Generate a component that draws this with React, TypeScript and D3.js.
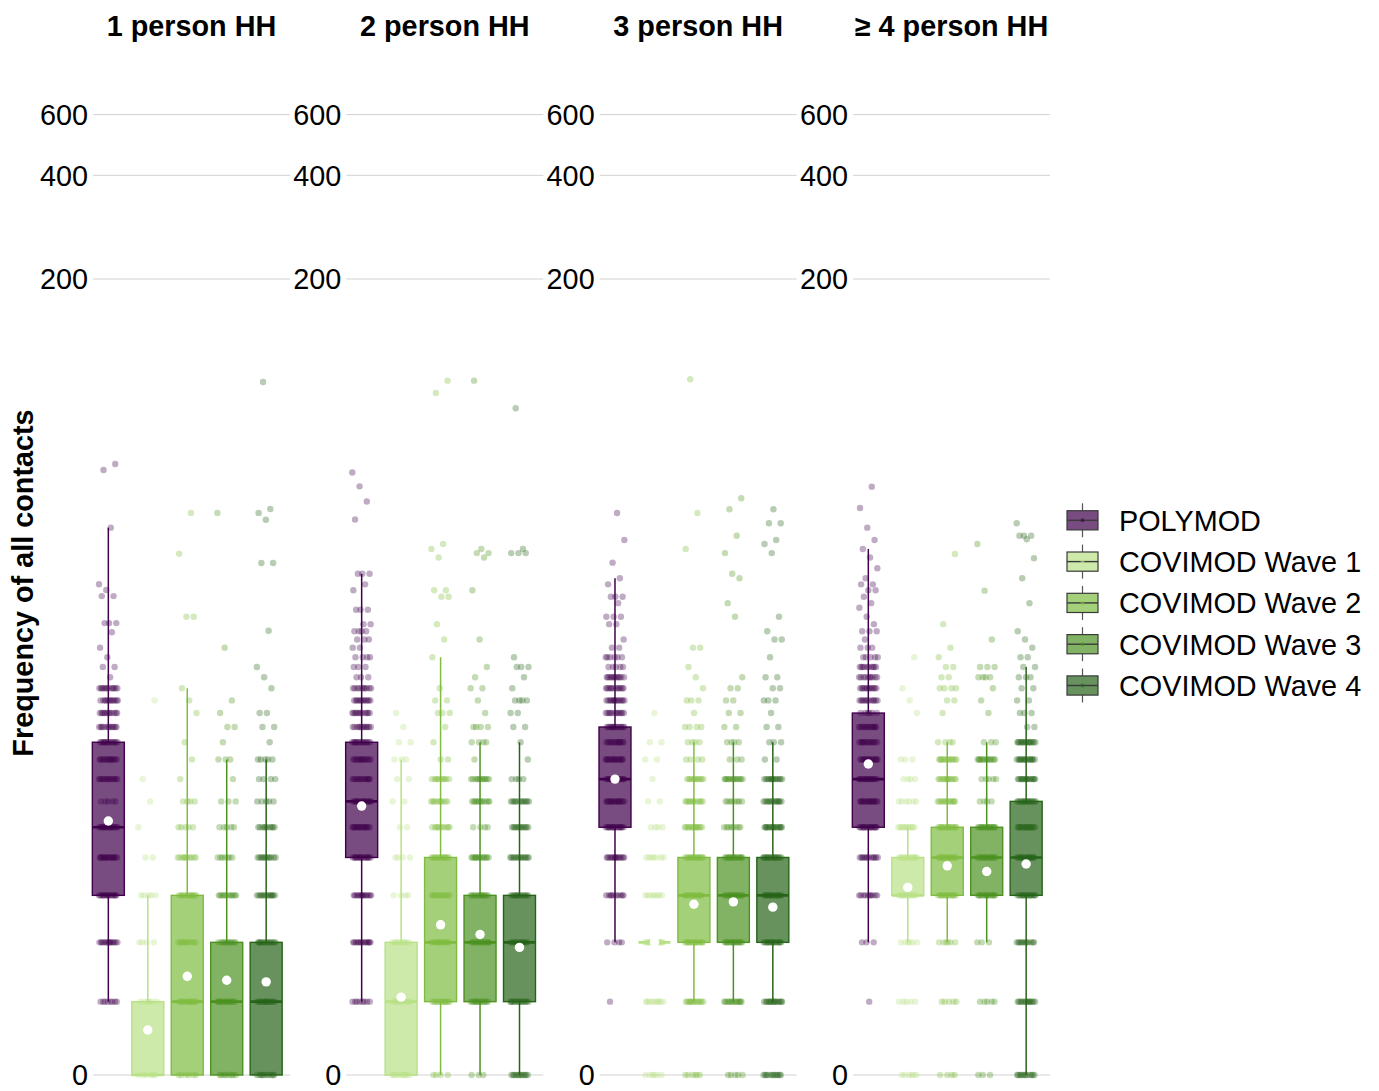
import React from 'react';
import * as d3 from 'd3';

// Facets (household size) and surveys
const HOUSEHOLDS = ['1 person HH', '2 person HH', '3 person HH', '≥ 4 person HH'];
const SURVEYS = ['POLYMOD', 'COVIMOD Wave 1', 'COVIMOD Wave 2', 'COVIMOD Wave 3', 'COVIMOD Wave 4'];
const SURVEY_COLORS = ['#40004b', '#b8e186', '#7fbc41', '#4d9221', '#276419'];
const Y_TICKS = [0, 200, 400, 600];

// Box statistics per survey: [lower whisker, q1, median, q3, upper whisker, mean]
const BOX_1P = [
  [0.63, 2.31, 4.21, 8.18, 37.35, 4.43],
  [0, 0, 0, 0.63, 2.31, 0.35],
  [0, 0, 0.63, 2.31, 12.16, 0.93],
  [0, 0, 0.63, 1.42, 7.18, 0.88],
  [0, 0, 0.63, 1.42, 7.18, 0.86],
];
const BOX_2P = [
  [0.63, 3.26, 5.19, 8.18, 27.2, 5.0],
  [0, 0, 0.63, 1.42, 7.18, 0.68],
  [0, 0.63, 1.42, 3.26, 15.17, 1.72],
  [0, 0.63, 1.42, 2.31, 8.18, 1.55],
  [0, 0.63, 1.42, 2.31, 8.18, 1.34],
];
const BOX_3P = [
  [1.42, 4.21, 6.18, 9.16, 26.37, 6.18],
  [1.42, 1.42, 1.42, 1.42, 1.42, 1.42],
  [0.63, 1.42, 2.31, 3.26, 8.18, 2.12],
  [0.63, 1.42, 2.31, 3.26, 8.18, 2.17],
  [0.63, 1.42, 2.31, 3.26, 8.18, 2.06],
];
const BOX_4P = [
  [1.42, 4.21, 6.18, 10.15, 32.27, 6.94],
  [1.42, 2.31, 2.31, 3.26, 4.21, 2.49],
  [1.42, 2.31, 3.26, 4.21, 8.18, 3.03],
  [1.42, 2.31, 3.26, 4.21, 8.18, 2.88],
  [0, 2.31, 3.26, 5.19, 14.16, 3.08],
];

// Individual responses per survey: [contacts, number of respondents]
const POINTS_1P = [
  [[0.63, 8], [1.42, 14], [2.31, 16], [3.26, 16], [4.21, 16], [5.19, 5], [6.18, 14], [7.18, 14], [8.18, 14], [9.16, 12], [10.15, 12], [11.13, 12], [12.16, 12], [13.16, 1], [14.16, 2], [15.17, 1], [16.24, 1], [18.1, 1], [19.3, 3], [23.3, 2], [24.3, 1], [25.3, 1], [37.35, 1], [55.3, 1], [57.6, 1]],
  [[0, 6], [0.63, 6], [1.42, 4], [2.31, 5], [3.26, 2], [4.21, 1], [5.19, 1], [6.18, 1], [11.13, 1]],
  [[0, 6], [0.63, 14], [1.42, 12], [2.31, 14], [3.26, 10], [4.21, 5], [5.19, 4], [6.18, 1], [7.18, 1], [8.18, 1], [10.15, 1], [11.13, 1], [12.16, 1], [20.19, 2], [31.2, 1], [41.3, 1]],
  [[0, 8], [0.63, 14], [1.42, 12], [2.31, 12], [3.26, 7], [4.21, 5], [5.19, 3], [6.18, 1], [7.18, 3], [8.18, 1], [9.16, 2], [10.15, 1], [11.13, 1], [16.24, 1], [41.3, 1]],
  [[0, 10], [0.63, 14], [1.42, 14], [2.31, 14], [3.26, 12], [4.21, 10], [5.19, 5], [6.18, 4], [7.18, 5], [8.18, 1], [9.16, 2], [10.15, 2], [12.16, 1], [13.16, 1], [14.16, 1], [18.3, 1], [29.3, 2], [39.4, 1], [41.3, 1], [42.4, 1], [100.2, 1]],
];
const POINTS_2P = [
  [[0.63, 8], [1.42, 14], [2.31, 14], [3.26, 16], [4.21, 16], [5.19, 16], [6.18, 14], [7.18, 14], [8.18, 14], [9.16, 12], [10.15, 12], [11.13, 12], [12.16, 10], [13.16, 3], [14.16, 3], [15.17, 4], [16.24, 2], [17.21, 3], [18.23, 4], [19.16, 2], [21.2, 3], [24.27, 1], [25.28, 1], [27.2, 3], [39.5, 1], [44.63, 1], [49.5, 1], [54.35, 1]],
  [[0, 10], [0.63, 12], [1.42, 10], [2.31, 4], [3.26, 4], [4.21, 2], [5.19, 2], [6.18, 2], [7.18, 3], [8.18, 2], [9.16, 1], [10.15, 1]],
  [[0, 4], [0.63, 14], [1.42, 14], [2.31, 14], [3.26, 14], [4.21, 10], [5.19, 10], [6.18, 10], [7.18, 2], [8.18, 1], [9.16, 1], [10.15, 3], [11.13, 2], [12.16, 1], [15.17, 1], [17.21, 1], [19.16, 1], [23.19, 2], [24.27, 2], [30.44, 1], [32.27, 1], [33.4, 1], [93.0, 1], [101.1, 1]],
  [[0, 3], [0.63, 14], [1.42, 14], [2.31, 14], [3.26, 14], [4.21, 4], [5.19, 12], [6.18, 12], [7.18, 1], [8.18, 4], [9.16, 4], [10.15, 1], [11.13, 1], [12.16, 2], [13.16, 1], [14.16, 1], [17.21, 1], [24.27, 1], [30.44, 1], [31.37, 2], [32.27, 1], [101.1, 1]],
  [[0, 12], [0.63, 14], [1.42, 14], [2.31, 14], [3.26, 14], [4.21, 12], [5.19, 12], [6.18, 4], [7.18, 1], [8.18, 1], [9.16, 2], [10.15, 2], [11.13, 4], [12.16, 1], [13.16, 1], [14.16, 3], [15.17, 1], [31.37, 3], [32.27, 1], [83.96, 1]],
];
const POINTS_3P = [
  [[0.63, 1], [1.42, 4], [2.31, 10], [3.26, 14], [4.21, 16], [5.19, 16], [6.18, 16], [7.18, 16], [8.18, 14], [9.16, 14], [10.15, 12], [11.13, 14], [12.16, 12], [13.16, 12], [14.16, 5], [15.17, 6], [16.24, 2], [17.21, 1], [19.16, 2], [20.19, 3], [22.19, 1], [23.19, 3], [25.28, 1], [26.37, 1], [29.37, 1], [34.33, 1], [41.29, 1]],
  [[0, 6], [0.63, 10], [1.42, 18], [2.31, 8], [3.26, 7], [4.21, 4], [5.19, 2], [6.18, 1], [7.18, 2], [8.18, 2], [10.15, 1]],
  [[0, 6], [0.63, 14], [1.42, 16], [2.31, 16], [3.26, 16], [4.21, 14], [5.19, 12], [6.18, 12], [7.18, 4], [8.18, 4], [9.16, 4], [10.15, 1], [11.13, 3], [12.16, 1], [13.16, 1], [14.16, 1], [16.24, 2], [32.27, 1], [41.29, 1], [102.05, 1]],
  [[0, 5], [0.63, 14], [1.42, 16], [2.31, 16], [3.26, 16], [4.21, 8], [5.19, 8], [6.18, 14], [7.18, 3], [8.18, 4], [9.16, 2], [10.15, 2], [11.13, 2], [12.16, 2], [13.16, 1], [20.19, 1], [22.19, 1], [26.37, 1], [27.2, 1], [31.37, 1], [35.33, 1], [42.35, 1], [45.65, 1]],
  [[0, 12], [0.63, 16], [1.42, 16], [2.31, 16], [3.26, 16], [4.21, 16], [5.19, 14], [6.18, 14], [7.18, 2], [8.18, 3], [9.16, 2], [10.15, 1], [11.13, 3], [12.16, 2], [13.16, 2], [15.17, 1], [17.21, 2], [18.23, 1], [20.19, 1], [31.37, 1], [33.4, 1], [34.33, 1], [38.49, 2], [42.35, 1]],
];
const POINTS_4P = [
  [[0.63, 1], [1.42, 3], [2.31, 10], [3.26, 12], [4.21, 16], [5.19, 16], [6.18, 16], [7.18, 16], [8.18, 14], [9.16, 14], [10.15, 6], [11.13, 12], [12.16, 12], [13.16, 10], [14.16, 10], [15.17, 5], [16.24, 3], [17.21, 1], [18.23, 3], [19.16, 1], [20.19, 1], [21.5, 1], [22.19, 1], [23.19, 1], [24.27, 2], [25.28, 2], [26.37, 1], [28.26, 1], [30.44, 1], [32.27, 1], [34.33, 1], [37.35, 1], [42.7, 1], [49.4, 1]],
  [[0, 6], [0.63, 5], [1.42, 6], [2.31, 14], [3.26, 14], [4.21, 12], [5.19, 6], [6.18, 4], [7.18, 3], [10.15, 1], [11.13, 1], [12.16, 1], [15.17, 1]],
  [[0, 4], [0.63, 5], [1.42, 6], [2.31, 16], [3.26, 16], [4.21, 16], [5.19, 14], [6.18, 14], [7.18, 14], [8.18, 4], [10.15, 1], [11.13, 2], [12.16, 4], [13.16, 2], [14.16, 2], [15.17, 1], [16.24, 1], [19.16, 1], [31.18, 1]],
  [[0, 3], [0.63, 5], [1.42, 3], [2.31, 16], [3.26, 16], [4.21, 16], [5.19, 4], [6.18, 5], [7.18, 14], [8.18, 3], [10.15, 1], [11.13, 1], [12.16, 1], [13.16, 4], [14.16, 3], [17.21, 1], [24.2, 1], [33.4, 1]],
  [[0, 12], [0.63, 14], [1.42, 12], [2.31, 16], [3.26, 16], [4.21, 16], [5.19, 16], [6.18, 16], [7.18, 16], [8.18, 16], [9.16, 2], [10.15, 3], [11.13, 2], [12.16, 2], [13.16, 3], [14.16, 2], [15.17, 2], [16.24, 1], [17.21, 1], [18.23, 1], [22.19, 1], [26.37, 1], [30.27, 1], [34.5, 1], [35.33, 3], [38.49, 1]],
];

const PANEL_BOXES = [BOX_1P, BOX_2P, BOX_3P, BOX_4P];
const PANEL_POINTS = [POINTS_1P, POINTS_2P, POINTS_3P, POINTS_4P];

const WIDTH = 1379;
const HEIGHT = 1091;
const FONT = '"Liberation Sans", Arial, Helvetica, sans-serif';
const FONT_SIZE = 28.8;

export default function App() {
  // log(1 + x) axis
  const y = d3.scaleSymlog().constant(1).domain([0, 600]).range([1075, 114.6]);
  const panelX = d3.scaleBand<string>().domain(HOUSEHOLDS).range([93, 1050]).paddingInner(0.2223);
  const groupX = d3.scaleBand<string>().domain(SURVEYS).range([-4.4, 192.9]);
  const boxW = 32;
  const jitterW = 9.5;
  const pw = panelX.bandwidth();

  return (
    <svg
      width={WIDTH}
      height={HEIGHT}
      style={{ position: 'absolute', left: 0, top: 0, background: '#fff' }}
      fontFamily={FONT}
    >
      <defs>
        <filter id="soft" x="-20%" y="-20%" width="140%" height="140%">
          <feGaussianBlur stdDeviation="0.5" />
        </filter>
      </defs>
      <rect width={WIDTH} height={HEIGHT} fill="#fff" />

      <text
        transform="translate(32.5,583) rotate(-90)"
        textAnchor="middle"
        fontSize={FONT_SIZE}
        fontWeight="bold"
        fill="#000"
      >
        Frequency of all contacts
      </text>

      {HOUSEHOLDS.map((hh, p) => {
        const px = panelX(hh) as number;
        const boxes = PANEL_BOXES[p];
        const points = PANEL_POINTS[p];
        return (
          <g key={hh}>
            <text x={px + pw / 2} y={35.5} textAnchor="middle" fontSize={FONT_SIZE} fontWeight="bold" fill="#000">
              {hh}
            </text>
            {Y_TICKS.map((t) => (
              <g key={t}>
                <line x1={px} x2={px + pw} y1={y(t)} y2={y(t)} stroke="#d2d2d2" strokeWidth={1} />
                <text x={px - 5} y={y(t)} dy="0.36em" textAnchor="end" fontSize={FONT_SIZE} fill="#000">
                  {t}
                </text>
              </g>
            ))}

            {SURVEYS.map((s, i) => {
              const [lo, q1, med, q3, hi] = boxes[i];
              const cx = px + (groupX(s) as number) + groupX.bandwidth() / 2;
              const col = SURVEY_COLORS[i];
              return (
                <g key={s}>
                  <line x1={cx} x2={cx} y1={y(q3)} y2={y(hi)} stroke={col} strokeWidth={1.5} />
                  <line x1={cx} x2={cx} y1={y(lo)} y2={y(q1)} stroke={col} strokeWidth={1.5} />
                  <rect
                    x={cx - boxW / 2}
                    y={y(q3)}
                    width={boxW}
                    height={Math.max(0, y(q1) - y(q3))}
                    fill={col}
                    fillOpacity={0.7}
                    stroke={col}
                    strokeWidth={1.4}
                  />
                  <line x1={cx - boxW / 2} x2={cx + boxW / 2} y1={y(med)} y2={y(med)} stroke={col} strokeWidth={2.6} />
                </g>
              );
            })}

            <g filter="url(#soft)">
              {SURVEYS.map((s, i) => {
                const cx = px + (groupX(s) as number) + groupX.bandwidth() / 2;
                const col = SURVEY_COLORS[i];
                const dots: React.ReactElement[] = [];
                let k = 0;
                points[i].forEach(([v, n]) => {
                  for (let j = 0; j < n; j++) {
                    k += 1;
                    const u = (k * 0.6180339887 + p * 0.31 + i * 0.17) % 1;
                    dots.push(
                      <circle key={`${v}-${j}`} cx={cx + (u - 0.5) * 2 * jitterW} cy={y(v)} r={3.2} fill={col} fillOpacity={0.33} />
                    );
                  }
                });
                return <g key={`pts-${s}`}>{dots}</g>;
              })}
            </g>

            {SURVEYS.map((s, i) => {
              const cx = px + (groupX(s) as number) + groupX.bandwidth() / 2;
              return <circle key={`mean-${s}`} cx={cx} cy={y(boxes[i][5])} r={4.7} fill="#fff" />;
            })}
          </g>
        );
      })}

      {SURVEYS.map((s, i) => {
        const cy = 520.3 + i * 41.3;
        const kx = 1067;
        const kw = 31;
        const col = SURVEY_COLORS[i];
        return (
          <g key={`leg-${s}`}>
            <line x1={kx + kw / 2} x2={kx + kw / 2} y1={cy - 17} y2={cy + 17} stroke="#555" strokeWidth={1.2} />
            <rect x={kx} y={cy - 9.6} width={kw} height={19.2} fill="#fff" />
            <rect x={kx} y={cy - 9.6} width={kw} height={19.2} fill={col} fillOpacity={0.7} stroke="#3a3a3a" strokeWidth={1.2} />
            <line x1={kx} x2={kx + kw} y1={cy} y2={cy} stroke="#3a3a3a" strokeWidth={1.4} />
            <circle cx={kx + kw / 2} cy={cy} r={2} fill={col} fillOpacity={0.6} />
            <text x={1119} y={cy} dy="0.36em" fontSize={FONT_SIZE} fill="#000">
              {s}
            </text>
          </g>
        );
      })}
    </svg>
  );
}
